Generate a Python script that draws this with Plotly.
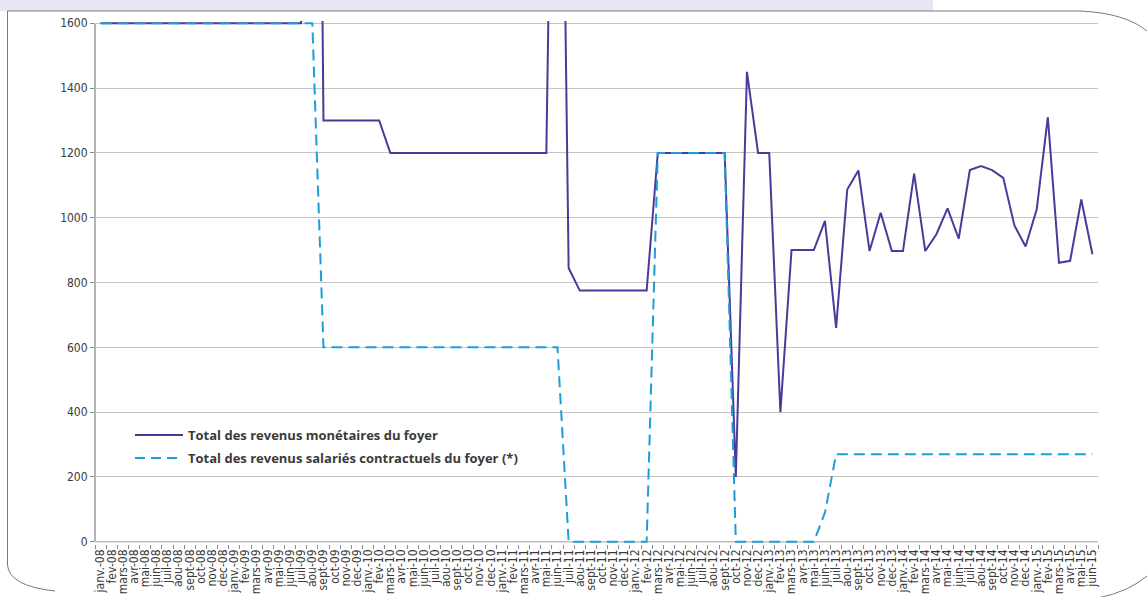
import plotly.graph_objects as go

# Month labels (janv.-08 ... juin-15)
MONTHS = ["janv.", "fev", "mars", "avr", "mai", "juin",
          "juil", "aou", "sept", "oct", "nov", "dec"]
YEARS = ["08", "09", "10", "11", "12", "13", "14", "15"]
labels = [f"{m}-{y}" for y in YEARS for m in MONTHS][:90]

# Total des revenus monétaires du foyer (monthly, euros)
revenus_monetaires = [
    1600, 1600, 1600, 1600, 1600, 1600, 1600, 1600, 1600, 1600, 1600, 1600,   # 2008
    1600, 1600, 1600, 1600, 1600, 1600, 1600, 5000, 1300, 1300, 1300, 1300,   # 2009
    1300, 1300, 1200, 1200, 1200, 1200, 1200, 1200, 1200, 1200, 1200, 1200,   # 2010
    1200, 1200, 1200, 1200, 1200, 3500, 845, 775, 775, 775, 775, 775,         # 2011
    775, 775, 1200, 1200, 1200, 1200, 1200, 1200, 1200, 200, 1450, 1200,      # 2012
    1200, 400, 900, 900, 900, 990, 660, 1087, 1146, 897, 1015, 897,           # 2013
    897, 1136, 897, 949, 1029, 935, 1147, 1159, 1147, 1123, 976, 911,         # 2014
    1026, 1310, 861, 867, 1056, 887,                                          # 2015
]

# Total des revenus salariés contractuels du foyer (monthly, euros)
revenus_salaries = [
    1600, 1600, 1600, 1600, 1600, 1600, 1600, 1600, 1600, 1600, 1600, 1600,   # 2008
    1600, 1600, 1600, 1600, 1600, 1600, 1600, 1600, 600, 600, 600, 600,       # 2009
    600, 600, 600, 600, 600, 600, 600, 600, 600, 600, 600, 600,               # 2010
    600, 600, 600, 600, 600, 600, 0, 0, 0, 0, 0, 0,                           # 2011
    0, 0, 1200, 1200, 1200, 1200, 1200, 1200, 1200, 0, 0, 0,                  # 2012
    0, 0, 0, 0, 0, 90, 270, 270, 270, 270, 270, 270,                          # 2013
    270, 270, 270, 270, 270, 270, 270, 270, 270, 270, 270, 270,               # 2014
    270, 270, 270, 270, 270, 270,                                             # 2015
]

SERIES_NAMES = ["Total des revenus monétaires du foyer",
                "Total des revenus salariés contractuels du foyer (*)"]

PURPLE = "#4a3a9a"
BLUE = "#1a9fd6"
TXT = "#3a3a3a"
AXIS = "#6a6a6a"
FONT = "Liberation Sans Narrow, DejaVu Sans Condensed, Arial Narrow, sans-serif"

Y_MIN, Y_MAX = 0, 1600
PADU = 7  # small headroom so lines lying on 0 / 1600 are not cut in half

W, H = 1147, 597
ML, MR, MT, MB = 95, 49, 21, 53
PW, PH = W - ML - MR, H - MT - MB


def px(x):
    return (x - ML) / PW


def py(y):
    return (H - MB - y) / PH


fig = go.Figure()
fig.add_trace(go.Scatter(x=labels, y=revenus_monetaires, mode="lines",
                         name=SERIES_NAMES[0],
                         line=dict(color=PURPLE, width=2)))
fig.add_trace(go.Scatter(x=labels, y=revenus_salaries, mode="lines",
                         name=SERIES_NAMES[1],
                         line=dict(color=BLUE, width=2, dash="11px,6px")))

shapes = []
annotations = []

# axis lines, drawn at the value 0 and from 0 to 1600
shapes.append(dict(type="line", xref="paper", yref="y", x0=0, x1=1,
                   y0=Y_MIN, y1=Y_MIN, line=dict(color=AXIS, width=1), layer="below"))
shapes.append(dict(type="line", xref="paper", yref="y", x0=0, x1=0,
                   y0=Y_MIN, y1=Y_MAX, line=dict(color=AXIS, width=1), layer="below"))

# header band
shapes.append(dict(type="rect", xref="paper", yref="paper",
                   x0=px(0), x1=px(933), y0=py(11), y1=py(-2),
                   fillcolor="#e8e6f2", line=dict(width=0), layer="below"))

# rounded frame around the chart
frame = (f"M {px(7.5)},{py(565)} L {px(7.5)},{py(11)} L {px(1080)},{py(11)} "
         f"Q {px(1125)},{py(13)} {px(1147)},{py(31)}")
shapes.append(dict(type="path", xref="paper", yref="paper", path=frame,
                   line=dict(color="#7a7a7a", width=1)))
shapes.append(dict(type="path", xref="paper", yref="paper",
                   path=f"M {px(7.5)},{py(565)} Q {px(9)},{py(586)} {px(55)},{py(591)}",
                   line=dict(color="#7a7a7a", width=1)))
shapes.append(dict(type="path", xref="paper", yref="paper",
                   path=f"M {px(1098)},{py(598)} Q {px(1128)},{py(592)} {px(1147)},{py(576)}",
                   line=dict(color="#7a7a7a", width=1)))

# legend
leg_rows = [(435, PURPLE, "solid"), (458, BLUE, "10px,6px")]
for (ly, col, dash), name in zip(leg_rows, SERIES_NAMES):
    shapes.append(dict(type="line", xref="paper", yref="paper",
                       x0=px(135), x1=px(183), y0=py(ly), y1=py(ly),
                       line=dict(color=col, width=2, dash=dash)))
    annotations.append(dict(xref="paper", yref="paper", x=px(186), y=py(ly),
                            xanchor="left", yanchor="middle", showarrow=False,
                            text=f"<b>{name}</b>",
                            font=dict(family="Open Sans, Liberation Sans, sans-serif",
                                      size=13, color=TXT)))

fig.update_layout(
    width=W, height=H,
    margin=dict(l=ML, r=MR, t=MT, b=MB, pad=0, autoexpand=False),
    paper_bgcolor="white", plot_bgcolor="white",
    showlegend=False,
    shapes=shapes, annotations=annotations,
    font=dict(family=FONT, size=12, color=TXT),
)
fig.update_xaxes(type="category", categoryorder="array", categoryarray=labels,
                 range=[-0.5, len(labels) - 0.5], tickangle=-90,
                 tickmode="array", tickvals=labels, ticktext=labels,
                 tickson="boundaries", ticks="outside", ticklen=4,
                 tickcolor="#8a8a8a", showgrid=False, showline=False,
                 automargin=False, ticklabelstandoff=2,
                 tickfont=dict(family=FONT, size=12, color=TXT))
fig.update_yaxes(range=[Y_MIN - PADU, Y_MAX + PADU],
                 tickmode="array", tickvals=list(range(0, 1601, 200)),
                 showgrid=True, gridcolor="#c4c4c4", gridwidth=1,
                 zeroline=False, showline=False, automargin=False,
                 ticks="outside", ticklen=4, tickcolor="#8a8a8a",
                 tickfont=dict(family=FONT, size=12, color=TXT))

fig.write_html("out.html")
